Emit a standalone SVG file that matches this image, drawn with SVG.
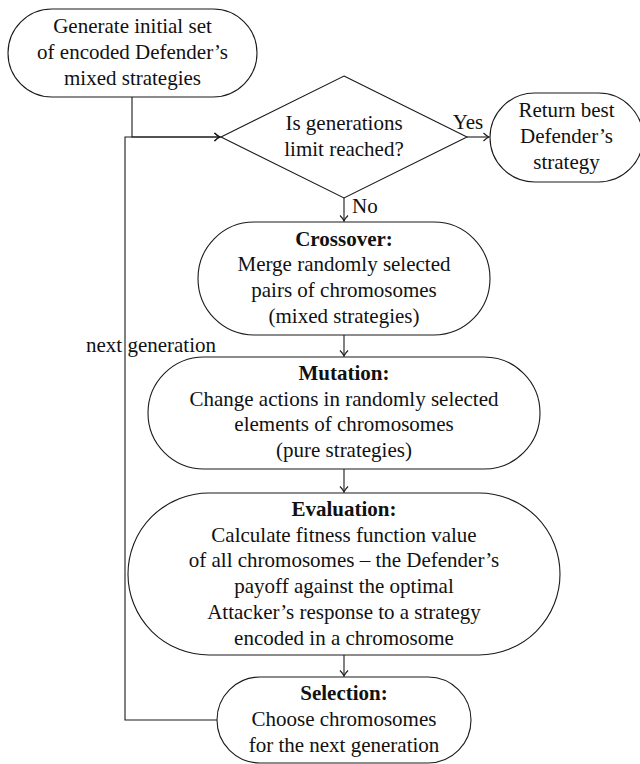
<svg xmlns="http://www.w3.org/2000/svg" width="640" height="764" viewBox="0 0 640 764">
<style>
.n{fill:#fff;stroke:#1a1a1a;stroke-width:1.1}
.c{fill:none;stroke:#1a1a1a;stroke-width:1.1}
text{font-family:"Liberation Serif","Times New Roman",serif;font-size:21px;fill:#111;text-anchor:middle}
.b{font-weight:bold}
.l{text-anchor:start}
</style>
<defs>
<marker id="ar" markerUnits="userSpaceOnUse" markerWidth="12" markerHeight="12" viewBox="-7 -6 8 12" refX="0" refY="0" orient="auto">
<path d="M-5.5,-4 Q-2,-0.6 0,0 Q-2,0.6 -5.5,4" fill="none" stroke="#1a1a1a" stroke-width="1.1"/>
</marker>
</defs>
<rect width="640" height="764" fill="#fff"/>
<g id="connectors">
<path class="c" d="M132,97 V137 H220" marker-end="url(#ar)"/>
<path class="c" d="M217,720 H125 V137 H220" marker-end="url(#ar)"/>
<path class="c" d="M467,137 H489" marker-end="url(#ar)"/>
<path class="c" d="M344,198 V221" marker-end="url(#ar)"/>
<path class="c" d="M344,335 V356" marker-end="url(#ar)"/>
<path class="c" d="M344,469 V492" marker-end="url(#ar)"/>
<path class="c" d="M344,655 V676" marker-end="url(#ar)"/>
<text x="468" y="129">Yes</text>
<text class="l" x="352" y="213">No</text>
<text class="l" x="86" y="352">next generation</text>
</g>
<g id="start">
<rect class="n" x="8" y="9" width="249" height="88" rx="44" ry="44"/>
<text x="132.5" y="33">Generate initial set</text>
<text x="132.5" y="59">of encoded Defender’s</text>
<text x="132.5" y="84.5">mixed strategies</text>
</g>
<g id="decision">
<polygon class="n" points="344,76 467,137 344,198 221,137"/>
<text x="344" y="130">Is generations</text>
<text x="344" y="156">limit reached?</text>
</g>
<g id="return">
<rect class="n" x="490" y="93" width="153" height="89" rx="44.5" ry="44.5"/>
<text x="566.5" y="117">Return best</text>
<text x="566.5" y="143">Defender’s</text>
<text x="566.5" y="168.5">strategy</text>
</g>
<g id="crossover">
<rect class="n" x="198" y="222" width="292" height="113" rx="56" ry="56.5"/>
<text class="b" x="344" y="245.5">Crossover:</text>
<text x="344" y="271">Merge randomly selected</text>
<text x="344" y="297">pairs of chromosomes</text>
<text x="344" y="322.5">(mixed strategies)</text>
</g>
<g id="mutation">
<rect class="n" x="148" y="357" width="392" height="112" rx="56" ry="56"/>
<text class="b" x="344" y="380">Mutation:</text>
<text x="344" y="405.5">Change actions in randomly selected</text>
<text x="344" y="431">elements of chromosomes</text>
<text x="344" y="457">(pure strategies)</text>
</g>
<g id="evaluation">
<rect class="n" x="128" y="493" width="432" height="162" rx="81" ry="81"/>
<text class="b" x="344" y="516">Evaluation:</text>
<text x="344" y="541.7">Calculate fitness function value</text>
<text x="344" y="567.4">of all chromosomes – the Defender’s</text>
<text x="344" y="593">payoff against the optimal</text>
<text x="344" y="618.8">Attacker’s response to a strategy</text>
<text x="344" y="644.5">encoded in a chromosome</text>
</g>
<g id="selection">
<rect class="n" x="217" y="677" width="254" height="86" rx="43" ry="43"/>
<text class="b" x="344" y="700.3">Selection:</text>
<text x="344" y="726">Choose chromosomes</text>
<text x="344" y="751.7">for the next generation</text>
</g>
</svg>
